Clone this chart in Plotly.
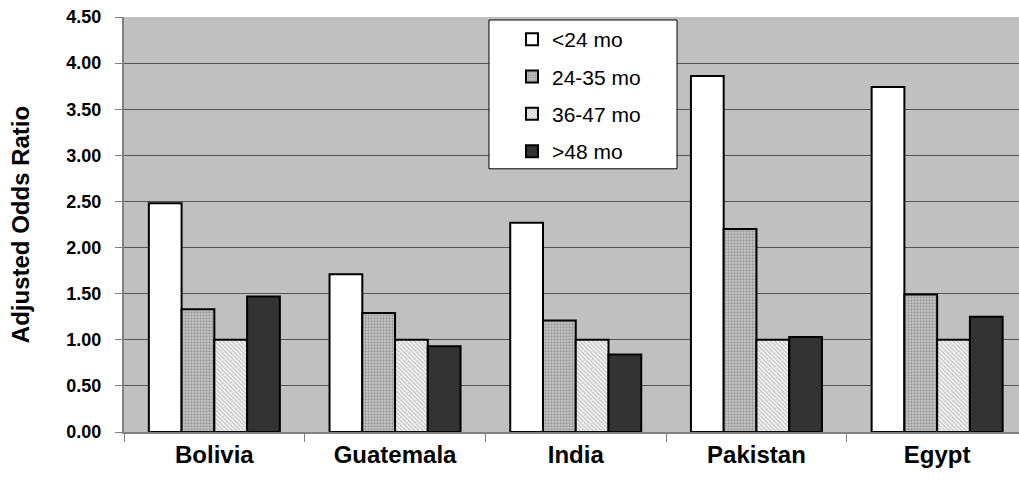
import plotly.graph_objects as go

countries = ["Bolivia", "Guatemala", "India", "Pakistan", "Egypt"]
age_groups = ["<24 mo", "24-35 mo", "36-47 mo", ">48 mo"]

odds_lt24 = [2.48, 1.71, 2.27, 3.86, 3.74]
odds_24_35 = [1.33, 1.29, 1.21, 2.20, 1.49]
odds_36_47 = [1.00, 1.00, 1.00, 1.00, 1.00]
odds_gt48 = [1.47, 0.93, 0.84, 1.03, 1.25]

y_ticks = [0.0, 0.5, 1.0, 1.5, 2.0, 2.5, 3.0, 3.5, 4.0, 4.5]

series = [odds_lt24, odds_24_35, odds_36_47, odds_gt48]

# fill styles per age group: solid white, fine dots, fine hatch, solid dark
styles = [
    dict(color="#ffffff", pattern=dict(shape="")),
    dict(color="#b0b0b0", pattern=dict(shape=".", fgcolor="#6a6a6a",
                                       bgcolor="#c6c6c6", size=3, solidity=0.45)),
    dict(color="#e0e0e0", pattern=dict(shape="\\", fgcolor="#999999",
                                       bgcolor="#f4f4f4", size=3, solidity=0.45)),
    dict(color="#333333", pattern=dict(shape="")),
]

FONT = "Arial, Liberation Sans, sans-serif"

fig = go.Figure()
for i, (name, vals, st) in enumerate(zip(age_groups, series, styles)):
    fig.add_trace(go.Bar(
        x=countries,
        y=vals,
        name=name,
        legendgroup=f"g{i}",
        marker=dict(color=st["color"], pattern=st["pattern"],
                    line=dict(color="#000000", width=2)),
    ))

# white framed box behind the legend entries
fig.add_shape(
    type="rect", xref="paper", yref="paper",
    x0=0.4078, x1=0.6179, y0=0.6342, y1=0.9928,
    fillcolor="#ffffff", line=dict(color="#000000", width=1),
    layer="above",
)

fig.update_layout(
    width=1019,
    height=486,
    margin=dict(l=124, r=0, t=17, b=54),
    paper_bgcolor="#ffffff",
    plot_bgcolor="#c0c0c0",
    barmode="group",
    bargap=0.275,
    bargroupgap=0,
    font=dict(family=FONT, color="#000000"),
    showlegend=True,
    legend=dict(
        x=0.4335, y=0.995, xanchor="left", yanchor="top",
        bgcolor="rgba(0,0,0,0)", borderwidth=0,
        font=dict(family=FONT, size=21, color="#000000"),
        tracegroupgap=7,
        itemwidth=30,
    ),
    xaxis=dict(
        type="category",
        range=[-0.5, 4.453],
        showgrid=False,
        showline=True, linecolor="#808080", linewidth=2,
        ticks="outside", tickson="boundaries", ticklen=8,
        tickcolor="#808080", tickwidth=1,
        tickfont=dict(family=FONT, size=24, color="#000000", weight="bold"),
    ),
    yaxis=dict(
        range=[0, 4.5],
        tickvals=y_ticks,
        tickformat=".2f",
        showgrid=True, gridcolor="#555555", gridwidth=1,
        zeroline=False,
        showline=True, linecolor="#808080", linewidth=2,
        ticks="outside", ticklen=7, tickcolor="#808080", tickwidth=1,
        ticklabelstandoff=10,
        tickfont=dict(family=FONT, size=18, color="#000000", weight="bold"),
        title=dict(text="Adjusted Odds Ratio", standoff=30,
                   font=dict(family=FONT, size=24, color="#000000", weight="bold")),
    ),
)

fig.write_html("out.html")
